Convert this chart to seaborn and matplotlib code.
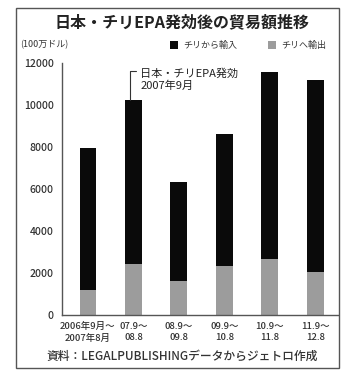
import matplotlib
matplotlib.use("Agg")
import matplotlib.pyplot as plt
import seaborn as sns
import pandas as pd
from matplotlib.patches import Rectangle

sns.set_theme(style="white")
plt.rcParams['font.family'] = ['Noto Sans CJK JP', 'DejaVu Sans']

periods = ["2006年9月～\n2007年8月", "07.9～\n08.8", "08.9～\n09.8",
           "09.9～\n10.8", "10.9～\n11.8", "11.9～\n12.8"]
imports_from_chile = [6750, 7800, 4750, 6250, 8900, 9150]
exports_to_chile = [1200, 2450, 1600, 2350, 2650, 2050]
yticks = [0, 2000, 4000, 6000, 8000, 10000, 12000]

df = pd.DataFrame({"period": periods,
                   "imp": imports_from_chile,
                   "exp": exports_to_chile})
df["total"] = df["imp"] + df["exp"]

fig = plt.figure(figsize=(3.46, 3.70), dpi=100)
ax = fig.add_axes([62/346, 1-315/370, (338-62)/346, (315-63)/370])

sns.barplot(data=df, x="period", y="total", color="#0a0a0a", width=0.37,
            saturation=1, ax=ax, edgecolor="none")
sns.barplot(data=df, x="period", y="exp", color="#9c9c9c", width=0.37,
            saturation=1, ax=ax, edgecolor="none")

ax.set_xlim(-0.57, 5.5)
ax.set_ylim(0, 12000)
ax.set_yticks(yticks)
ax.set_yticklabels([str(v) for v in yticks], fontsize=7.5, color="#333333",
                   fontweight="medium")
ax.set_xticks(range(len(periods)))
ax.set_xticklabels(periods, fontsize=6.8, color="#333333", linespacing=1.35,
                   fontweight="medium")
ax.set_xlabel("")
ax.set_ylabel("")
ax.tick_params(axis="y", length=2, width=0.8, color="#444444", pad=4, direction="out")
ax.tick_params(axis="x", length=0, pad=5)
for s in ["top", "right"]:
    ax.spines[s].set_visible(False)
ax.spines["left"].set_color("#555555")
ax.spines["bottom"].set_color("#555555")
ax.spines["left"].set_linewidth(1.0)
ax.spines["bottom"].set_linewidth(1.0)

# annotation for EPA
ax.plot([0.93, 0.93, 1.06], [10250, 11600, 11600], color="#333333", lw=0.8)
ax.text(1.15, 11200, "日本・チリEPA発効\n2007年9月", fontsize=8, va="center",
        ha="left", color="#222222", linespacing=1.25)

# title, units, legend, source
fig.text(0.525, 1-22/370, "日本・チリEPA発効後の貿易額推移", ha="center", va="center",
         fontsize=11.5, fontweight="bold", color="#222222")
fig.text(20/346, 1-45/370, "(100万ドル)", ha="left", va="center", fontsize=6.5,
         color="#333333")
fig.patches.append(Rectangle((170/346, 1-49/370), 8/346, 8/370, transform=fig.transFigure,
                             facecolor="#0a0a0a", edgecolor="none"))
fig.text(183/346, 1-45/370, "チリから輸入", ha="left", va="center", fontsize=6.5,
         color="#333333")
fig.patches.append(Rectangle((268/346, 1-49/370), 8/346, 8/370, transform=fig.transFigure,
                             facecolor="#9c9c9c", edgecolor="none"))
fig.text(281/346, 1-45/370, "チリへ輸出", ha="left", va="center", fontsize=6.5,
         color="#333333")
fig.text(46/346, 1-356/370, "資料：LEGALPUBLISHINGデータからジェトロ作成", ha="left",
         va="center", fontsize=8.5, color="#333333", fontweight="medium")

# outer frame
fig.patches.append(Rectangle((16/346, 2/370), (339-16)/346, (360)/370,
                             transform=fig.transFigure, facecolor="none",
                             edgecolor="#555555", lw=1.0))

fig.savefig("out.png", dpi=100)
